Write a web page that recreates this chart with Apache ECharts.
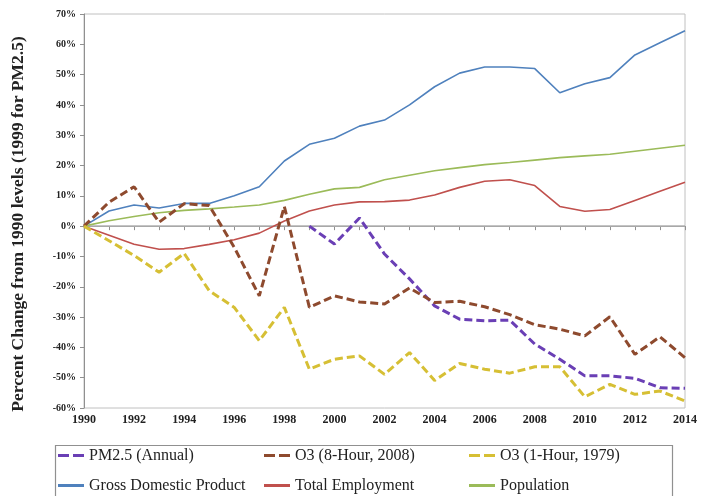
<!DOCTYPE html>
<html>
<head>
<meta charset="utf-8">
<script src="https://cdn.jsdelivr.net/npm/echarts@6/dist/echarts.min.js"></script>
<style>html,body{margin:0;padding:0;background:#fff;}#c{width:702px;height:496px;}</style>
</head>
<body>
<div id="c"></div>
<script>
const years = [1990,1991,1992,1993,1994,1995,1996,1997,1998,1999,2000,2001,2002,2003,2004,2005,2006,2007,2008,2009,2010,2011,2012,2013,2014];
const pmYears = [1999,2000,2001,2002,2003,2004,2005,2006,2007,2008,2009,2010,2011,2012,2013,2014];
const pm25 = [0,-5.9,2.7,-9.2,-17.4,-26.3,-30.7,-31.2,-31,-38.9,-43.9,-49.4,-49.4,-50.2,-53.3,-53.5];
const o3_8hr = [0,7.9,13,1.3,7.4,6.8,-7,-23,6.5,-26.8,-23,-25,-25.7,-20.4,-25.2,-24.8,-26.6,-29.2,-32.5,-34,-36.2,-29.9,-42.3,-36.5,-43.4];
const o3_1hr = [0,-4.8,-9.7,-15.2,-9,-21.3,-26.8,-37.8,-26.8,-47.2,-43.9,-42.8,-48.9,-41.7,-50.9,-45.3,-47.2,-48.5,-46.4,-46.4,-56.3,-52.2,-55.5,-54.4,-57.7];
const gdp = [0,5,7,6,7.5,7.5,10,13,21.5,27,29,33,35,40,46,50.5,52.5,52.5,52,44,47,49,56.5,60.5,64.5];
const employment = [0,-3,-6,-7.6,-7.4,-6,-4.5,-2.3,1.7,5,7,8,8.1,8.6,10.3,12.8,14.8,15.3,13.4,6.5,4.9,5.5,8.5,11.5,14.5];
const population = [0,1.8,3.2,4.4,5.2,5.7,6.3,7.0,8.5,10.5,12.3,12.8,15.3,16.8,18.3,19.3,20.3,21,21.8,22.6,23.2,23.7,24.7,25.7,26.7];
const yTicks = {min:-60, max:70, interval:10};
const names = ['PM2.5 (Annual)','O3 (8-Hour, 2008)','O3 (1-Hour, 1979)','Gross Domestic Product','Total Employment','Population'];

const pair = (xs, vs) => xs.map((x,i)=>[x, vs[i]]);
const serif = '"Liberation Serif","DejaVu Serif",serif';
const chart = echarts.init(document.getElementById('c'));
const solid = (name, data, color) => ({
  name, type:'line', data, symbol:'none', showSymbol:false,
  lineStyle:{color, width:1.6}, itemStyle:{color}, z:2
});
const dashed = (name, data, color) => ({
  name, type:'line', data, symbol:'none', showSymbol:false,
  lineStyle:{color, width:3, type:[8,4]}, itemStyle:{color}, z:3
});
const DASH_ICON = 'path://M0,0h11v3h-11zM15,0h11v3h-11z';
const SOLID_ICON = 'path://M0,0.75h26v1.5h-26z';
function makeLegend(left, dashedName, solidName){
  return {
    orient:'vertical', left:left, top:447, padding:0, height:60,
    itemWidth:26, itemHeight:3, itemGap:13,
    symbolKeepAspect:false,
    textStyle:{fontFamily:serif, fontSize:16, color:'#222', lineHeight:17},
    data:[{name:dashedName, icon:DASH_ICON}, {name:solidName, icon:SOLID_ICON}]
  };
}
const gdpSeries = solid(names[3], pair(years,gdp), '#4F81BD');
gdpSeries.markLine = {
  silent:true, symbol:'none', label:{show:false},
  lineStyle:{color:'#b0b0b0', type:'solid', width:1.5},
  data:[{yAxis:0}], z:1
};
chart.setOption({
  backgroundColor:'#fff',
  animation:false,
  grid:{left:84, right:17, top:14, bottom:88, show:true, borderColor:'#c0c0c0', borderWidth:1},
  xAxis:{
    type:'value', min:1990, max:2014, interval:2,
    axisLine:{show:true, lineStyle:{color:'#909090', width:1}},
    axisTick:{show:true, length:4, lineStyle:{color:'#909090'}},
    minorTick:{show:true, splitNumber:2, length:4, lineStyle:{color:'#909090'}},
    splitLine:{show:false},
    axisLabel:{fontFamily:serif, fontWeight:'bold', fontSize:12, color:'#222', margin:6, formatter:v=>String(v)}
  },
  yAxis:{
    type:'value', min:yTicks.min, max:yTicks.max, interval:yTicks.interval,
    name:'Percent Change from 1990 levels (1999 for PM2.5)',
    nameLocation:'middle', nameGap:57,
    nameTextStyle:{fontFamily:serif, fontWeight:'bold', fontSize:17.5, color:'#222', padding:[0,26,0,0]},
    axisLine:{show:true, lineStyle:{color:'#909090', width:1}},
    axisTick:{show:true, length:4, lineStyle:{color:'#909090'}},
    splitLine:{show:false},
    axisLabel:{fontFamily:serif, fontWeight:'bold', fontSize:10, color:'#222', margin:8, formatter:'{value}%'}
  },
  legend:[
    makeLegend(58, names[0], names[3]),
    makeLegend(264, names[1], names[4]),
    makeLegend(469, names[2], names[5])
  ],
  graphic:[{
    type:'rect', left:53, top:443, shape:{width:617, height:60},
    style:{fill:'none', stroke:'#909090', lineWidth:1.2}, silent:true
  }],
  series:[
    gdpSeries,
    solid(names[4], pair(years,employment), '#C0504D'),
    solid(names[5], pair(years,population), '#9BBB59'),
    dashed(names[0], pair(pmYears,pm25), '#6A3FB5'),
    dashed(names[1], pair(years,o3_8hr), '#8E4A2E'),
    dashed(names[2], pair(years,o3_1hr), '#D6BF34')
  ]
});
</script>
</body>
</html>
